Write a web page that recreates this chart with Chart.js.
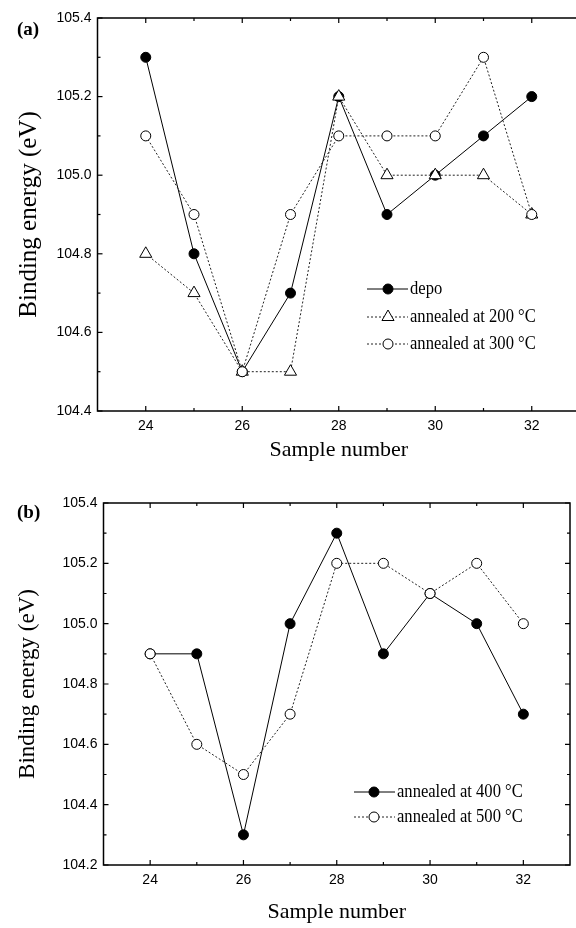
<!DOCTYPE html>
<html><head><meta charset="utf-8">
<script src="https://cdn.jsdelivr.net/npm/chart.js@4.4.1/dist/chart.umd.min.js"></script>
<style>
html,body{margin:0;padding:0;overflow:hidden;background:#fff;width:576px;height:928px;}
#ca{position:absolute;left:0;top:0;}
#cb{position:absolute;left:0;top:464px;}
</style></head><body>
<canvas id="ca" width="590" height="464" style="width:590px;height:464px"></canvas>
<canvas id="cb" width="576" height="464" style="width:576px;height:464px"></canvas>
<script>
// ---- data ----
const sampleNumbers = [24, 25, 26, 27, 28, 29, 30, 31, 32];
const depo        = [105.3, 104.8, 104.5, 104.7, 105.2, 104.9, 105.0, 105.1, 105.2];
const annealed200 = [104.8, 104.7, 104.5, 104.5, 105.2, 105.0, 105.0, 105.0, 104.9];
const annealed300 = [105.1, 104.9, 104.5, 104.9, 105.1, 105.1, 105.1, 105.3, 104.9];
const annealed400 = [104.9, 104.9, 104.3, 105.0, 105.3, 104.9, 105.1, 105.0, 104.7];
const annealed500 = [104.9, 104.6, 104.5, 104.7, 105.2, 105.2, 105.1, 105.2, 105.0];
const xTickLabels = [24, 26, 28, 30, 32];
const yTicksA = [104.4, 104.6, 104.8, 105.0, 105.2, 105.4];
const yTicksB = [104.2, 104.4, 104.6, 104.8, 105.0, 105.2, 105.4];
const namesA = ['depo', 'annealed at 200 \u00B0C', 'annealed at 300 \u00B0C'];
const namesB = ['annealed at 400 \u00B0C', 'annealed at 500 \u00B0C'];
const xTitle = 'Sample number';
const yTitle = 'Binding energy (eV)';
const panelA = '(a)';
const panelB = '(b)';

const SERIF = "'Liberation Serif','Times New Roman',serif";
const SANS = "'Liberation Sans',Arial,sans-serif";

function pts(ys) { return sampleNumbers.map((x, i) => ({ x: x, y: ys[i] })); }

function solidSet(label, ys, order) {
  return { label, data: pts(ys), order, borderColor: '#000', borderWidth: 1, tension: 0,
    pointStyle: 'circle', pointRadius: 5, pointBackgroundColor: '#000', pointBorderColor: '#000', pointBorderWidth: 1 };
}
function dotSet(label, ys, order, style, r) {
  return { label, data: pts(ys), order, borderColor: '#222', borderWidth: 1, borderDash: [2, 2], tension: 0,
    pointStyle: style, pointRadius: r, pointBackgroundColor: '#fff', pointBorderColor: '#000', pointBorderWidth: 1 };
}

const framePlugin = {
  id: 'frame',
  beforeDatasetsDraw(chart) {
    const o = chart.options.plugins.frame;
    const { ctx, chartArea: a, scales: { x, y } } = chart;
    ctx.save();
    ctx.strokeStyle = '#000';
    ctx.lineWidth = 1.5;
    ctx.strokeRect(a.left, a.top, a.right - a.left, a.bottom - a.top);
    ctx.lineWidth = 1.2;
    const maj = 5, mino = 3;
    const xs = [];
    for (let v = Math.ceil(x.min) + 1; v < x.max; v++) xs.push(v);
    xs.forEach(v => {
      const px = x.getPixelForValue(v);
      const L = (v % 2 === 0) ? maj : mino;
      ctx.beginPath();
      ctx.moveTo(px, a.bottom); ctx.lineTo(px, a.bottom - L);
      ctx.moveTo(px, a.top); ctx.lineTo(px, a.top + L);
      ctx.stroke();
    });
    const yt = o.yTicks;
    const ys = [];
    for (let i = 0; i < yt.length; i++) {
      ys.push([yt[i], maj]);
      if (i < yt.length - 1) ys.push([(yt[i] + yt[i + 1]) / 2, mino]);
    }
    ys.forEach(([v, L]) => {
      const py = y.getPixelForValue(v);
      ctx.beginPath();
      ctx.moveTo(a.left, py); ctx.lineTo(a.left + L, py);
      if (o.rightTicks) { ctx.moveTo(a.right, py); ctx.lineTo(a.right - L, py); }
      ctx.stroke();
    });
    ctx.restore();
  },
  afterDraw(chart) {
    const o = chart.options.plugins.frame;
    const ctx = chart.ctx;
    ctx.save();
    ctx.fillStyle = '#000';
    ctx.font = "bold 19px " + SERIF;
    ctx.textBaseline = 'middle';
    ctx.textAlign = 'left';
    ctx.fillText(o.panel, o.panelX, o.panelY);
    chart.data.datasets.forEach((ds, i) => {
      const yy = o.legRows[i];
      ctx.save();
      ctx.strokeStyle = ds.borderColor;
      ctx.lineWidth = 1;
      ctx.setLineDash(ds.borderDash || []);
      ctx.beginPath();
      ctx.moveTo(o.legX0, yy); ctx.lineTo(o.legX1, yy);
      ctx.stroke();
      ctx.setLineDash([]);
      ctx.fillStyle = ds.pointBackgroundColor;
      ctx.strokeStyle = ds.pointBorderColor;
      ctx.lineWidth = ds.pointBorderWidth;
      Chart.helpers.drawPoint(ctx, { pointStyle: ds.pointStyle, radius: ds.pointRadius, rotation: 0, borderWidth: ds.pointBorderWidth }, o.legXm, yy);
      ctx.restore();
      ctx.save();
      ctx.fillStyle = '#000';
      ctx.font = "18px " + SERIF;
      ctx.textBaseline = 'middle';
      ctx.textAlign = 'left';
      ctx.translate(o.legXt, yy);
      ctx.scale(0.92, 1);
      ctx.fillText(ds.label, 0, 0);
      ctx.restore();
    });
    ctx.restore();
  }
};

function makeChart(id, datasets, yMin, yMax, yTicks, axisW, axisH, pad, yTitleSize, yTitlePad, xTitlePad, frameOpts) {
  return new Chart(document.getElementById(id), {
    type: 'line',
    data: { datasets },
    plugins: [framePlugin],
    options: {
      responsive: false,
      animation: false,
      events: [],
      layout: { padding: pad },
      plugins: { legend: { display: false }, tooltip: { enabled: false }, frame: Object.assign({ yTicks }, frameOpts) },
      scales: {
        x: {
          type: 'linear', position: 'bottom', min: 23, max: 33,
          grid: { display: false, drawTicks: false },
          border: { display: false },
          ticks: { color: '#000', font: { family: SANS, size: 14 }, padding: 7, autoSkip: false, maxRotation: 0 },
          afterBuildTicks: s => { s.ticks = xTickLabels.map(v => ({ value: v })); },
          afterFit: s => { s.height = axisH; s.paddingLeft = 0; s.paddingRight = 0; },
          title: { display: true, text: xTitle, color: '#000', font: { family: SERIF, size: 22 }, padding: { top: 0, bottom: xTitlePad } }
        },
        y: {
          type: 'linear', position: 'left', min: yMin, max: yMax,
          grid: { display: false, drawTicks: false },
          border: { display: false },
          ticks: { color: '#000', font: { family: SANS, size: 14 }, padding: 6, callback: v => Number(v).toFixed(1) },
          afterBuildTicks: s => { s.ticks = yTicks.map(v => ({ value: v })); },
          afterFit: s => { s.width = axisW; s.paddingTop = 0; s.paddingBottom = 0; },
          title: { display: true, text: yTitle, color: '#000', font: { family: SERIF, size: yTitleSize }, padding: { top: yTitlePad, bottom: 0 } }
        }
      }
    }
  });
}

makeChart('ca', [
  solidSet(namesA[0], depo, 3),
  dotSet(namesA[1], annealed200, 2, 'triangle', 7),
  dotSet(namesA[2], annealed300, 1, 'circle', 5)
], 104.4, 105.4, yTicksA, 97.5, 53, { left: 0, top: 18, right: 10, bottom: 0 }, 25, 14, 1,
  { rightTicks: false, panel: panelA, panelX: 17, panelY: 30, legX0: 367, legX1: 408, legXm: 388, legXt: 410, legRows: [289, 317, 344] });

makeChart('cb', [
  solidSet(namesB[0], annealed400, 2),
  dotSet(namesB[1], annealed500, 1, 'circle', 5)
], 104.2, 105.4, yTicksB, 103.5, 63, { left: 0, top: 39, right: 1, bottom: 0 }, 23, 14, 3,
  { rightTicks: true, panel: panelB, panelX: 17, panelY: 49, legX0: 354, legX1: 395, legXm: 374, legXt: 397, legRows: [328, 353] });
</script>
</body></html>
